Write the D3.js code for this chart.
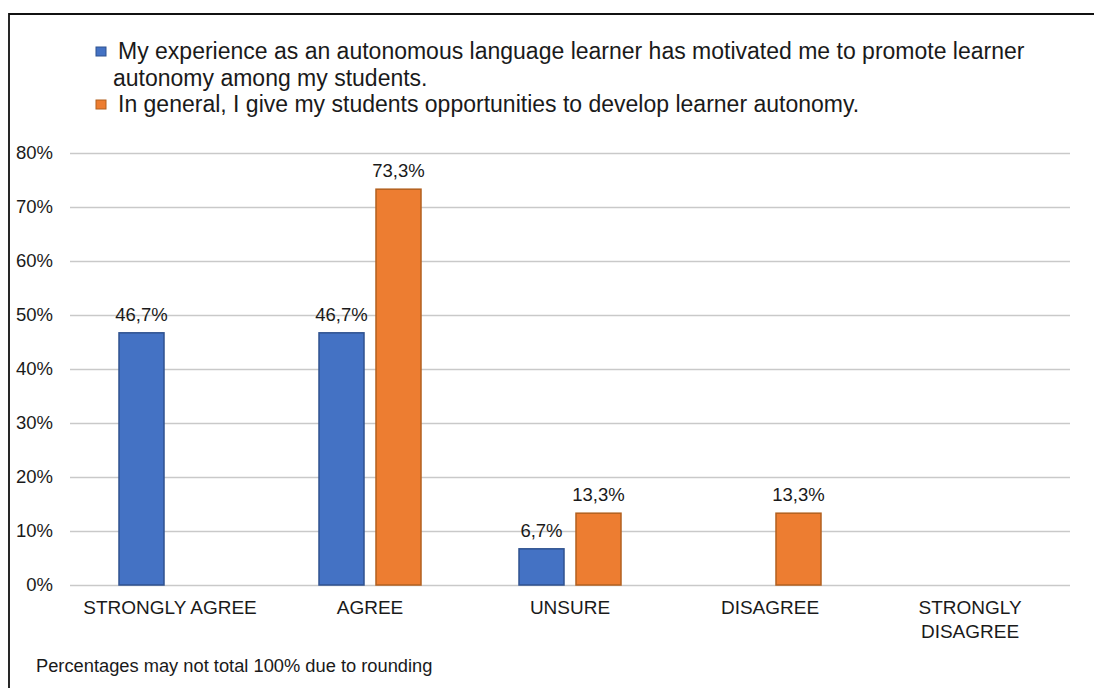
<!DOCTYPE html>
<html>
<head>
<meta charset="utf-8">
<script src="https://cdn.jsdelivr.net/npm/d3@7"></script>
<style>
  body { margin: 0; background: #fff; }
  svg { font-family: "Liberation Sans", Arial, sans-serif; display: block; }
</style>
</head>
<body>
<svg id="chart" width="1094" height="688"></svg>
<script>
// data
var categories = ["STRONGLY AGREE", "AGREE", "UNSURE", "DISAGREE", "STRONGLY DISAGREE"];
var seriesNames = [
    "My experience as an autonomous language learner has motivated me to promote learner autonomy among my students.",
    "In general, I give my students opportunities to develop learner autonomy."
];
var experienceValues = [46.7, 46.7, 6.7, 0, 0];
var generalValues = [0, 73.3, 13.3, 13.3, 0];
var yTicks = [0, 10, 20, 30, 40, 50, 60, 70, 80];

var fills = ["#4472C4", "#ED7D31"];
var strokes = ["#2F528F", "#B2601F"];

var svg = d3.select("#chart");

// frame (left + top only, the rest is cropped in the original)
svg.append("path")
    .attr("d", "M9,688 L9,14 L1094,14")
    .attr("fill", "none")
    .attr("stroke", "#111")
    .attr("stroke-width", 1.8);

var plotLeft = 70, plotRight = 1070, plotTop = 153, plotBottom = 585;

var y = d3.scaleLinear().domain([0, 80]).range([plotBottom, plotTop]);

var x0 = d3.scaleBand()
    .domain(categories)
    .range([plotLeft, plotRight])
    .paddingInner(0.49)
    .paddingOuter(0.245);

var x1 = d3.scaleBand()
    .domain([0, 1])
    .range([0, x0.bandwidth()])
    .paddingInner(0.2105);

// y axis + gridlines
var yAxis = svg.append("g")
    .attr("transform", "translate(" + plotLeft + ",0)")
    .call(d3.axisLeft(y)
        .tickValues(yTicks)
        .tickSize(-(plotRight - plotLeft))
        .tickPadding(17)
        .tickFormat(function (d) { return d + "%"; }));

yAxis.select(".domain").remove();
yAxis.selectAll("line")
    .attr("stroke", "#c9c9c9")
    .attr("stroke-width", 1.6);
yAxis.selectAll("text")
    .attr("font-size", 18.5)
    .attr("fill", "#1a1a1a");

// bars
var rows = categories.map(function (c, i) {
    return { cat: c, vals: [experienceValues[i], generalValues[i]] };
});

var groups = svg.append("g").selectAll("g")
    .data(rows)
    .enter().append("g")
    .attr("transform", function (d) { return "translate(" + x0(d.cat) + ",0)"; });

var cells = groups.selectAll("g")
    .data(function (d) {
        return d.vals.map(function (v, i) { return { s: i, v: v }; });
    })
    .enter().append("g")
    .filter(function (d) { return d.v > 0; });

cells.append("rect")
    .attr("x", function (d) { return x1(d.s); })
    .attr("y", function (d) { return y(d.v); })
    .attr("width", x1.bandwidth())
    .attr("height", function (d) { return y(0) - y(d.v); })
    .attr("fill", function (d) { return fills[d.s]; })
    .attr("stroke", function (d) { return strokes[d.s]; })
    .attr("stroke-width", 1.5);

cells.append("text")
    .attr("x", function (d) { return x1(d.s) + x1.bandwidth() / 2; })
    .attr("y", function (d) { return y(d.v) - 12; })
    .attr("text-anchor", "middle")
    .attr("font-size", 18.5)
    .attr("fill", "#1a1a1a")
    .text(function (d) { return String(d.v).replace(".", ",") + "%"; });

// category labels
var xAxis = svg.append("g")
    .attr("transform", "translate(0," + plotBottom + ")")
    .call(d3.axisBottom(x0).tickSize(0).tickPadding(0).tickFormat(""));
xAxis.select(".domain").remove();

xAxis.selectAll(".tick").each(function (d) {
    var words = d === "STRONGLY DISAGREE" ? ["STRONGLY", "DISAGREE"] : [d];
    var t = d3.select(this).append("text")
        .attr("text-anchor", "middle")
        .attr("font-size", 19)
        .attr("fill", "#1a1a1a");
    words.forEach(function (w, i) {
        t.append("tspan")
            .attr("x", 0)
            .attr("y", 29 + i * 24)
            .text(w);
    });
});

// legend
var legendLines = [
    { s: 0, lines: ["My experience as an autonomous language learner has motivated me to promote learner",
                    "autonomy among my students."] },
    { s: 1, lines: ["In general, I give my students opportunities to develop learner autonomy."] }
];

var ly = 59;
legendLines.forEach(function (item) {
    svg.append("rect")
        .attr("x", 96)
        .attr("y", ly - 12)
        .attr("width", 10)
        .attr("height", 9)
        .attr("fill", fills[item.s])
        .attr("stroke", strokes[item.s])
        .attr("stroke-width", 1);
    item.lines.forEach(function (line, i) {
        svg.append("text")
            .attr("x", i === 0 ? 118 : 113)
            .attr("y", ly)
            .attr("font-size", 23)
            .attr("fill", "#1a1a1a")
            .text(line);
        ly += 26.5;
    });
});

// footnote
svg.append("text")
    .attr("x", 36)
    .attr("y", 672)
    .attr("font-size", 18.3)
    .attr("fill", "#1a1a1a")
    .text("Percentages may not total 100% due to rounding");
</script>
</body>
</html>
